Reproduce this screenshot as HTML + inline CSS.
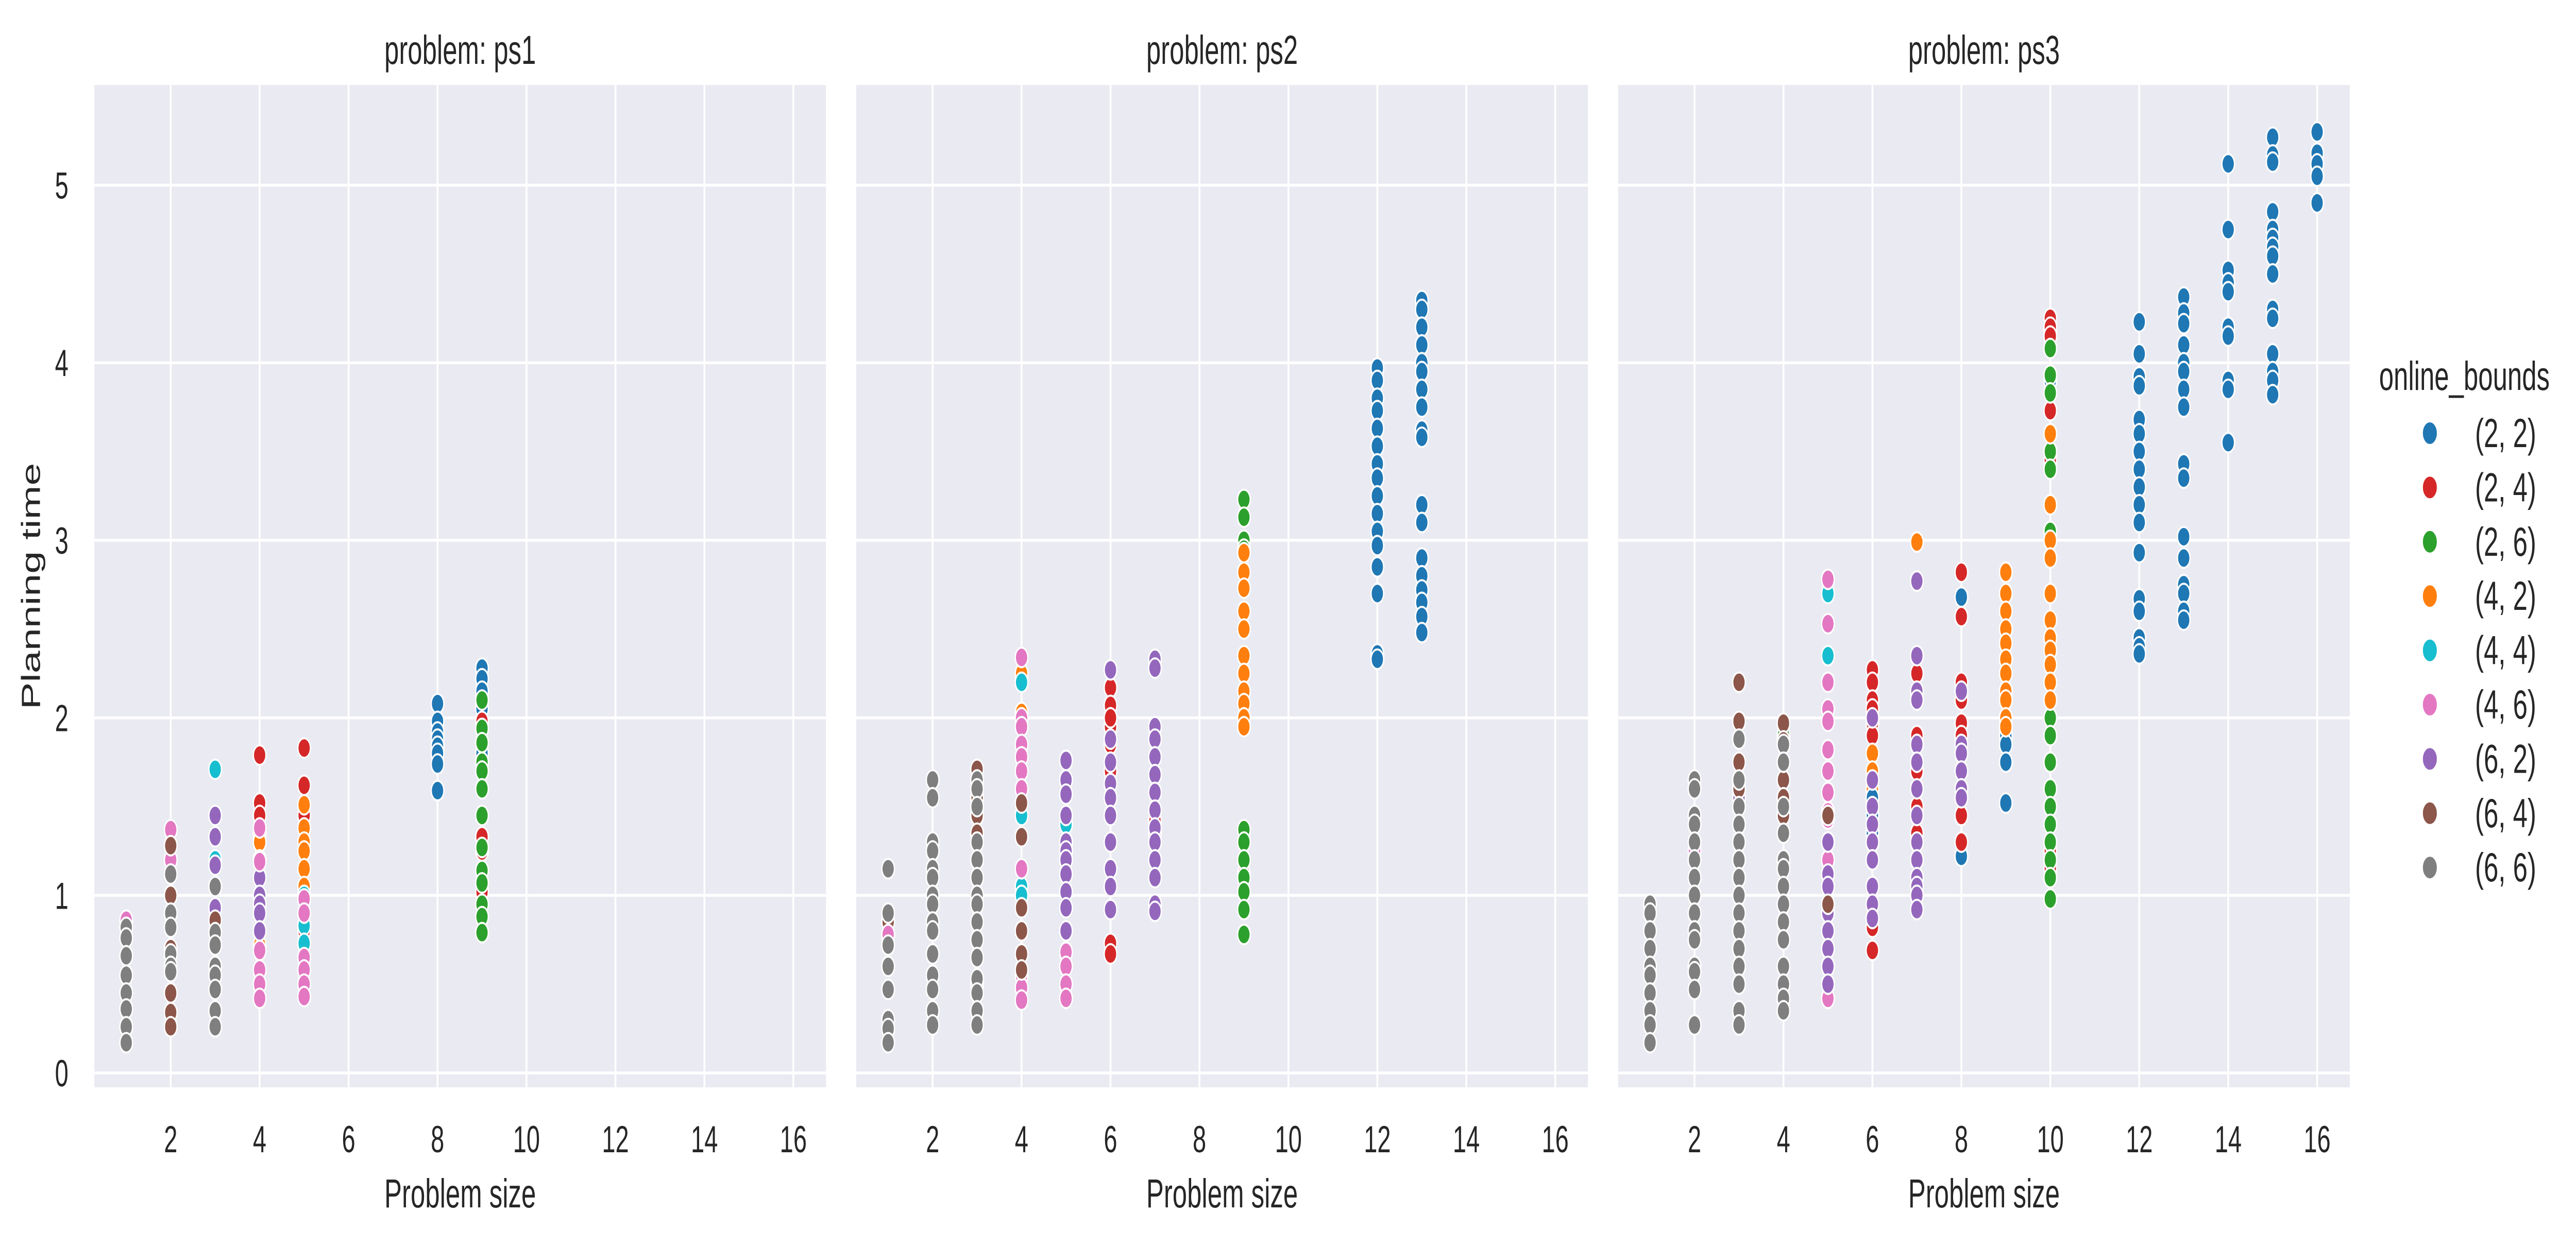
<!DOCTYPE html>
<html><head><meta charset="utf-8"><style>
html,body{margin:0;padding:0;background:#fff;width:100vw;height:100vh;overflow:hidden}
svg{display:block;width:100vw;height:100vh}
text{font-family:"Liberation Sans",Arial,sans-serif;fill:#262626}
</style></head><body>
<svg id="chart" viewBox="0 0 7756 2419" preserveAspectRatio="none" xmlns="http://www.w3.org/2000/svg"></svg>
<script>
const panelTitles = ["problem: ps1","problem: ps2","problem: ps3"];
const hueLabels = ["(2, 2)","(2, 4)","(2, 6)","(4, 2)","(4, 4)","(4, 6)","(6, 2)","(6, 4)","(6, 6)"];
const hueColors = ["#1f77b4","#d62728","#2ca02c","#ff7f0e","#17becf","#e377c2","#9467bd","#8c564b","#7f7f7f"];
const xTicks = [2,4,6,8,10,12,14,16];
const yTicks = [0,1,2,3,4,5];
// [problem size, hue index, planning times]
const ps1 = [
 [1,5,[0.86]],[1,8,[0.82,0.76,0.66,0.55,0.45,0.36,0.26,0.17]],
 [2,5,[1.37,1.2]],[2,7,[1.28,1.0,0.7,0.45,0.34,0.26]],[2,8,[1.12,0.9,0.82,0.67,0.6,0.57]],
 [3,4,[1.71,1.2]],[3,6,[1.45,1.33,1.17,0.93]],[3,7,[0.86]],[3,8,[1.05,0.79,0.72,0.6,0.55,0.47,0.35,0.26]],
 [4,1,[1.79,1.52,1.45]],[4,3,[1.35,1.3,1.2,0.72]],[4,6,[1.1,1.0,0.95,0.9,0.8]],[4,5,[1.38,1.19,0.69,0.58,0.5,0.42]],
 [5,1,[1.83,1.62,1.45,0.8]],[5,3,[1.51,1.38,1.3,1.25,1.15,1.05]],[5,4,[1.0,0.83,0.73]],[5,5,[0.98,0.9,0.65,0.58,0.5,0.43]],
 [8,0,[2.08,1.98,1.92,1.88,1.84,1.8,1.74,1.59]],
 [9,0,[2.28,2.22,2.15,2.05,1.8]],[9,1,[1.98,1.33,1.25,1.02]],[9,2,[2.1,1.94,1.86,1.75,1.7,1.6,1.45,1.27,1.14,1.07,0.95,0.88,0.79]]
];
const ps2 = [
 [1,7,[0.85,0.6]],[1,5,[0.78]],[1,8,[1.15,0.9,0.72,0.6,0.47,0.3,0.25,0.17]],
 [2,8,[1.65,1.55,1.3,1.25,1.15,1.1,1.0,0.95,0.85,0.8,0.67,0.55,0.47,0.35,0.27]],
 [3,7,[1.71,1.55,1.45,1.35,0.5]],[3,8,[1.65,1.6,1.5,1.3,1.2,1.1,1.0,0.95,0.85,0.75,0.65,0.53,0.45,0.35,0.27]],
 [4,3,[2.25,2.03]],[4,4,[2.2,1.45,1.05,1.0]],[4,5,[2.34,2.0,1.95,1.85,1.78,1.7,1.6,1.15,0.55,0.48,0.41]],[4,7,[1.52,1.33,0.93,0.8,0.67,0.58]],
 [5,4,[1.4]],[5,6,[1.76,1.65,1.57,1.45,1.3,1.25,1.2,1.12,1.02,0.93,0.8]],[5,5,[0.68,0.6,0.5,0.42]],
 [6,1,[2.17,2.07,2.0,1.95,1.85,1.7,0.73,0.67]],[6,6,[2.27,1.88,1.75,1.63,1.55,1.45,1.3,1.15,1.05,0.92]],[6,1,[2.0]],
 [7,1,[1.42,1.35]],[7,6,[2.33,2.28,1.95,1.88,1.78,1.68,1.58,1.48,1.38,1.3,1.2,1.1,0.95,0.91]],
 [9,1,[1.3,1.12]],[9,2,[3.23,3.13,3.0,2.95,1.37,1.3,1.2,1.1,1.02,0.92,0.78]],[9,3,[2.93,2.82,2.73,2.6,2.5,2.35,2.25,2.15,2.08,2.0,1.95]],
 [12,0,[3.97,3.9,3.8,3.73,3.63,3.53,3.43,3.35,3.25,3.15,3.05,2.97,2.85,2.7,2.36,2.33]],
 [13,0,[4.35,4.3,4.2,4.1,4.0,3.95,3.85,3.75,3.62,3.58,3.2,3.1,2.9,2.8,2.72,2.65,2.57,2.48]]
];
const ps3 = [
 [1,8,[0.95,0.9,0.8,0.7,0.6,0.55,0.45,0.35,0.27,0.17]],
 [2,5,[1.25]],[2,8,[1.65,1.6,1.45,1.4,1.3,1.2,1.1,1.0,0.9,0.8,0.75,0.6,0.57,0.47,0.27]],
 [3,6,[1.55]],[3,7,[2.2,1.98,1.75,1.6]],[3,8,[1.88,1.65,1.5,1.4,1.3,1.2,1.1,1.0,0.9,0.8,0.7,0.6,0.5,0.35,0.27]],
 [4,2,[1.9]],[4,7,[1.97,1.87,1.65,1.55,1.45]],[4,8,[1.85,1.75,1.5,1.35,1.2,1.15,1.05,0.95,0.85,0.75,0.6,0.5,0.42,0.35]],
 [5,4,[2.7,2.35]],[5,5,[2.78,2.53,2.2,2.05,1.98,1.82,1.7,1.58,1.47,1.43,1.3,1.2,0.5,0.42]],[5,6,[1.3,1.12,1.05,0.9,0.8,0.7,0.6,0.5]],[5,7,[1.45,0.95]],
 [6,1,[2.27,2.2,2.1,2.05,1.97,1.9,0.82,0.69]],[6,3,[1.8,1.7,1.6]],[6,0,[1.55,1.45,1.35]],[6,6,[2.0,1.65,1.5,1.4,1.3,1.2,1.05,0.95,0.87]],
 [7,3,[2.99]],[7,1,[2.25,2.15,1.9,1.7,1.5,1.35]],[7,6,[2.77,2.35,2.15,2.1,1.85,1.75,1.6,1.45,1.3,1.2,1.1,1.05,1.0,0.92]],
 [8,0,[2.68,1.22]],[8,1,[2.82,2.57,2.2,2.1,1.97,1.9,1.45,1.3]],[8,6,[2.15,1.85,1.8,1.7,1.6,1.55]],
 [9,0,[1.9,1.85,1.75,1.52]],[9,3,[2.82,2.7,2.6,2.5,2.42,2.33,2.25,2.15,2.1,2.0,1.95]],
 [10,0,[4.18,3.9]],[10,1,[4.25,4.2,4.15,3.73,3.6,3.5,3.45,1.25,1.2,1.15,1.1]],
 [10,2,[4.08,3.93,3.83,3.5,3.4,3.2,3.05,2.1,2.0,1.9,1.75,1.6,1.5,1.4,1.3,1.2,1.1,0.98]],
 [10,3,[3.6,3.2,3.0,2.9,2.7,2.55,2.45,2.38,2.3,2.2,2.1]],
 [12,0,[4.23,4.05,3.92,3.87,3.68,3.6,3.5,3.4,3.3,3.2,3.1,2.93,2.67,2.6,2.45,2.4,2.36]],
 [13,0,[4.37,4.28,4.22,4.1,4.0,3.95,3.85,3.75,3.43,3.35,3.02,2.9,2.75,2.7,2.6,2.55]],
 [14,0,[5.12,4.75,4.52,4.45,4.4,4.2,4.15,3.9,3.85,3.55]],
 [15,0,[5.27,5.17,5.13,4.85,4.75,4.7,4.65,4.6,4.5,4.3,4.25,4.05,3.95,3.9,3.82]],
 [16,0,[5.3,5.18,5.12,5.05,4.9]]
];
const panelsData = [ps1, ps2, ps3];

const NS = "http://www.w3.org/2000/svg";
const svg = document.getElementById("chart");
function mk(tag, attrs, parent){
  const e = document.createElementNS(NS, tag);
  for (const k in attrs) e.setAttribute(k, attrs[k]);
  (parent||svg).appendChild(e);
  return e;
}
const PW = 2203, PTOP = 165, PBOT = 2111, OFFS = [284, 2578, 4872];
function xScale(p, v){ return OFFS[p] + 230 + (v - 2) * 133.9; }
function yScale(v){ return 2083 - v * 344.7; }

for (let p = 0; p < 3; p++) {
  const g = mk("g", {});
  
  
  const bg = mk("rect", {x:OFFS[p], y:PTOP, width:PW, height:PBOT-PTOP, fill:"#eaeaf2"}, g);
  
  
  yTicks.forEach(t => {
    const l = mk("line", {x1:OFFS[p], x2:OFFS[p]+PW, y1:yScale(t), y2:yScale(t), stroke:"#fff", "stroke-width":5.5}, g);
    
    
    if (p === 0) {
      const tx = mk("text", {x:206, y:yScale(t)+26, "font-size":73, "text-anchor":"end"}, g);
      tx.textContent = t;
      
      
    }
  });
  xTicks.forEach(t => {
    const l = mk("line", {x1:xScale(p,t), x2:xScale(p,t), y1:PTOP, y2:PBOT, stroke:"#fff", "stroke-width":5.5}, g);
    
    
    const tx = mk("text", {x:xScale(p,t), y:2237, "font-size":73, "text-anchor":"middle"}, g);
    tx.textContent = t;
    
    
  });
  const title = mk("text", {x:OFFS[p]+PW/2, y:124, "font-size":79, "text-anchor":"middle"}, g);
  title.textContent = panelTitles[p];
  
  
  const xl = mk("text", {x:OFFS[p]+PW/2, y:2344, "font-size":79, "text-anchor":"middle"}, g);
  xl.textContent = "Problem size";
  
  
  panelsData[p].forEach(row => {
    const [xv, hue, ys] = row;
    ys.forEach(yv => {
      const c = mk("circle", {cx:xScale(p,xv), cy:yScale(yv), r:19, fill:hueColors[hue], stroke:"#fff", "stroke-width":4}, g);
      
      
    });
  });
}
const yl = mk("text", {x:0, y:0, "font-size":79, "text-anchor":"middle", transform:"translate(120,1138) rotate(-90)"});
yl.textContent = "Planning time";



const lg = mk("g", {});


const lt = mk("text", {x:7163, y:757, "font-size":79}, lg);
lt.textContent = "online_bounds";


hueLabels.forEach((lab, i) => {
  const cy = 841 + i * 105.4;
  const c = mk("circle", {cx:7316, cy:cy, r:22, fill:hueColors[i], stroke:"#fff", "stroke-width":2}, lg);
  
  
  const t = mk("text", {x:7452, y:cy+27, "font-size":79}, lg);
  t.textContent = lab;
  
  
});
</script>
</body></html>
